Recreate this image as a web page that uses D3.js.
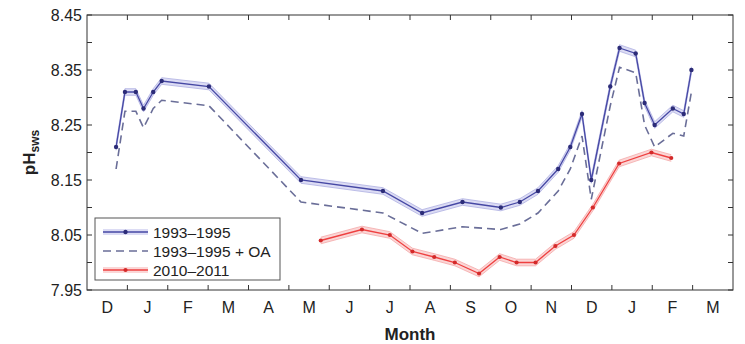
<!DOCTYPE html>
<html><head><meta charset="utf-8">
<script src="https://cdn.jsdelivr.net/npm/d3@7"></script>
<style>
html,body{margin:0;padding:0;background:#fff;}
svg text{font-family:"Liberation Sans",Arial,Helvetica,sans-serif;fill:#222;}
</style></head>
<body><svg id="c" width="745" height="344"></svg>
<script>
// Month labels (Dec .. Mar of following year); positions are month index (0 = start of Dec)
const monthLabels = ["D","J","F","M","A","M","J","J","A","S","O","N","D","J","F","M"];
const yTicks = [7.95, 8.05, 8.15, 8.25, 8.35, 8.45];
const yMinorTicks = [8.00, 8.10, 8.20, 8.30, 8.40];

// 1993-1995 series (month position, pH)
const histMonth = [0.72,0.94,1.21,1.40,1.64,1.85,3.02,5.30,7.33,8.30,9.30,10.25,10.72,11.17,11.67,11.97,12.26,12.49,12.96,13.19,13.59,13.81,14.06,14.51,14.78,14.97];
const histPH    = [8.21,8.31,8.31,8.28,8.31,8.33,8.32,8.15,8.13,8.09,8.11,8.10,8.11,8.13,8.17,8.21,8.27,8.15,8.32,8.39,8.38,8.29,8.25,8.28,8.27,8.35];
// 1993-1995 + OA series
const oaPH      = [8.17,8.275,8.275,8.245,8.28,8.295,8.285,8.11,8.09,8.053,8.065,8.06,8.07,8.09,8.13,8.17,8.23,8.115,8.285,8.355,8.345,8.25,8.21,8.235,8.23,8.31];
// 2010-2011 series
const recentMonth = [5.79,6.81,7.50,8.06,8.60,9.11,9.71,10.22,10.64,11.11,11.60,12.06,12.53,13.18,13.98,14.47];
const recentPH    = [8.04,8.06,8.05,8.02,8.01,8.00,7.98,8.01,8.00,8.00,8.03,8.05,8.10,8.18,8.20,8.19];
const bandHalf = 0.006;

const seriesNames = ["1993\u20131995","1993\u20131995 + OA","2010\u20132011"];

const svg = d3.select("#c");
const L=87, R=733, T=15, B=290;
const x = d3.scaleLinear().domain([0,16]).range([L,R]);
const y = d3.scaleLinear().domain([7.95,8.45]).range([B,T]);

const hist = histMonth.map((m,i)=>({m, v:histPH[i], oa:oaPH[i]}));
const recent = recentMonth.map((m,i)=>({m, v:recentPH[i]}));

const area = d3.area().x(d=>x(d.m)).y0(d=>y(d.v-bandHalf)).y1(d=>y(d.v+bandHalf));
const lineUp = d3.line().x(d=>x(d.m)).y(d=>y(d.v+bandHalf));
const lineDn = d3.line().x(d=>x(d.m)).y(d=>y(d.v-bandHalf));
const line = d3.line().x(d=>x(d.m)).y(d=>y(d.v));
const lineOA = d3.line().x(d=>x(d.m)).y(d=>y(d.oa));

// blue band
svg.append("path").datum(hist).attr("d",area).attr("fill","#dcdcf4");
svg.append("path").datum(hist).attr("d",lineUp).attr("fill","none").attr("stroke","#aeb0e2").attr("stroke-width",0.8);
svg.append("path").datum(hist).attr("d",lineDn).attr("fill","none").attr("stroke","#aeb0e2").attr("stroke-width",0.8);
// red band
svg.append("path").datum(recent).attr("d",area).attr("fill","#fbd6d6");
svg.append("path").datum(recent).attr("d",lineUp).attr("fill","none").attr("stroke","#f4a8a8").attr("stroke-width",0.8);
svg.append("path").datum(recent).attr("d",lineDn).attr("fill","none").attr("stroke","#f4a8a8").attr("stroke-width",0.8);

// OA dashed
svg.append("path").datum(hist).attr("d",lineOA).attr("fill","none").attr("stroke","#6a6e98").attr("stroke-width",1.6).attr("stroke-dasharray","8,5");
// blue line
svg.append("path").datum(hist).attr("d",line).attr("fill","none").attr("stroke","#4648a4").attr("stroke-width",1.3);
svg.selectAll(".hm").data(hist).enter().append("circle").attr("cx",d=>x(d.m)).attr("cy",d=>y(d.v)).attr("r",2.2).attr("fill","#2c2c78");
// red line
svg.append("path").datum(recent).attr("d",line).attr("fill","none").attr("stroke","#ee4040").attr("stroke-width",1.3);
svg.selectAll(".rm").data(recent).enter().append("circle").attr("cx",d=>x(d.m)).attr("cy",d=>y(d.v)).attr("r",2.1).attr("fill","#d42a2a");

// axes frame
const ax = svg.append("g").attr("stroke","#333").attr("stroke-width",1);
ax.append("rect").attr("x",L).attr("y",T).attr("width",R-L).attr("height",B-T).attr("fill","none");
// x ticks (month boundaries), inward on bottom and top
const xt = d3.range(1,16);
xt.forEach(t=>{
  ax.append("line").attr("x1",x(t)).attr("x2",x(t)).attr("y1",B).attr("y2",B-5);
  ax.append("line").attr("x1",x(t)).attr("x2",x(t)).attr("y1",T).attr("y2",T+5);
});
yTicks.concat(yMinorTicks).forEach(t=>{
  ax.append("line").attr("x1",L).attr("x2",L+5).attr("y1",y(t)).attr("y2",y(t));
  ax.append("line").attr("x1",R).attr("x2",R-5).attr("y1",y(t)).attr("y2",y(t));
});
// y tick labels
svg.selectAll(".yl").data(yTicks).enter().append("text")
  .attr("x",L-5).attr("y",d=>y(d)).attr("dy","0.36em").attr("text-anchor","end")
  .attr("font-size",16).text(d=>d3.format(".2f")(d));
// month labels
svg.selectAll(".xl").data(monthLabels).enter().append("text")
  .attr("x",(d,i)=>x(i+0.5)).attr("y",B+23).attr("text-anchor","middle")
  .attr("font-size",16).text(d=>d);
// axis titles
svg.append("text").attr("x",(L+R)/2).attr("y",B+50).attr("text-anchor","middle")
  .attr("font-size",17).attr("font-weight","bold").text("Month");
const yt = svg.append("text").attr("transform",`translate(35,${(T+B)/2}) rotate(-90)`)
  .attr("text-anchor","middle").attr("font-weight","bold").attr("font-size",17);
yt.append("tspan").text("pH");
yt.append("tspan").attr("font-size",12).attr("dy",4).text("sws");

// legend
const lg = svg.append("g");
lg.append("rect").attr("x",95).attr("y",218).attr("width",185).attr("height",62).attr("fill","#fff").attr("stroke","#555").attr("stroke-width",1);
const rows = [232,251,270];
// row 1
lg.append("rect").attr("x",103).attr("y",rows[0]-3).attr("width",45).attr("height",6).attr("fill","#dcdcf4");
lg.append("line").attr("x1",103).attr("x2",148).attr("y1",rows[0]).attr("y2",rows[0]).attr("stroke","#4648a4").attr("stroke-width",1.3);
lg.append("circle").attr("cx",125.5).attr("cy",rows[0]).attr("r",2.2).attr("fill","#2c2c78");
// row 2
lg.append("line").attr("x1",103).attr("x2",148).attr("y1",rows[1]).attr("y2",rows[1]).attr("stroke","#6a6e98").attr("stroke-width",1.6).attr("stroke-dasharray","8,5");
// row 3
lg.append("rect").attr("x",103).attr("y",rows[2]-3).attr("width",45).attr("height",6).attr("fill","#fbd6d6");
lg.append("line").attr("x1",103).attr("x2",148).attr("y1",rows[2]).attr("y2",rows[2]).attr("stroke","#ee4040").attr("stroke-width",1.3);
lg.append("circle").attr("cx",125.5).attr("cy",rows[2]).attr("r",2.1).attr("fill","#d42a2a");
seriesNames.forEach((n,i)=>{
  lg.append("text").attr("x",153).attr("y",rows[i]).attr("dy","0.36em").attr("font-size",15.5).text(n);
});
</script></body></html>
